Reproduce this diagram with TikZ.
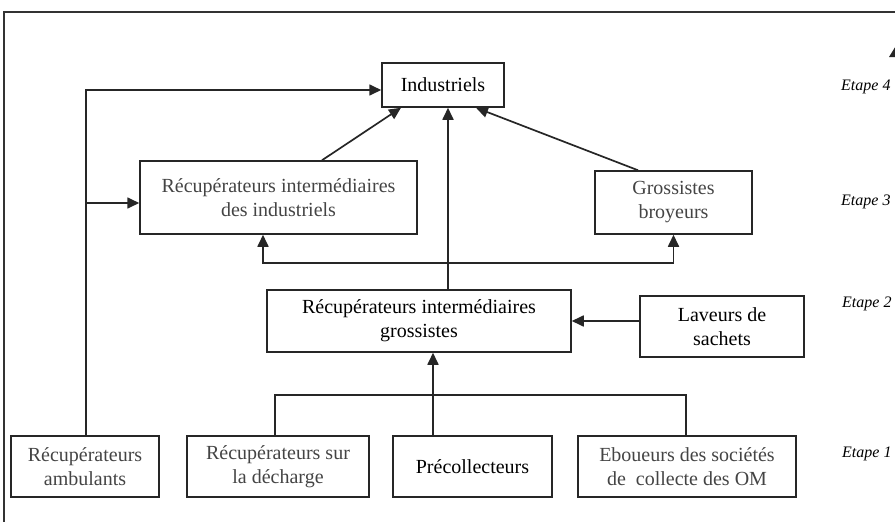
\documentclass[tikz,border=0pt]{standalone}
\usepackage{fontspec}
\setmainfont{Liberation Serif}
\usetikzlibrary{arrows.meta}
\definecolor{txtgray}{HTML}{444444}
\definecolor{framegray}{HTML}{333333}
\tikzset{
  box/.style={draw=black!85, line width=1.5pt, inner sep=0pt, align=center,
    font=\fontsize{20}{24}\selectfont, text=black},
  graybox/.style={box, text=txtgray},
  arr/.style={line width=1.7pt, draw=black!85, -{Triangle[length=12pt,width=11pt]}},
  darr/.style={line width=1.7pt, draw=black!85, {Triangle[length=12pt,width=11pt]}-{Triangle[length=12pt,width=11pt]}},
  plain/.style={line width=1.7pt, draw=black!85},
  etape/.style={anchor=west, inner sep=0pt, font=\fontsize{16}{19}\selectfont\itshape}
}
\begin{document}
\begin{tikzpicture}[x=1pt,y=-1pt]
\useasboundingbox (0,0) rectangle (895,522);
\clip (0,0) rectangle (895,522);
% frame
\draw[framegray, line width=2.8pt] (4,530) -- (4,12) -- (900,12);
\fill[black!85] (889,57) -- (897,44) -- (905,57) -- cycle;
% nodes
\node[box, minimum width=122pt, minimum height=44pt] (ind) at (443,85) {Industriels};
\node[graybox, minimum width=277pt, minimum height=73pt] (rii) at (278.5,197.5) {Récupérateurs intermédiaires\\des industriels};
\node[graybox, minimum width=157pt, minimum height=63pt] (gb) at (673.5,202.5) {Grossistes\\broyeurs};
\node[box, minimum width=304pt, minimum height=62pt] (rig) at (419,321) {Récupérateurs intermédiaires\\grossistes};
\node[box, minimum width=164pt, minimum height=61pt] (lav) at (722,326.5) {Laveurs de\\sachets};
\node[graybox, minimum width=148pt, minimum height=61pt] (amb) at (85,466.5) {Récupérateurs\\ambulants};
\node[graybox, minimum width=182pt, minimum height=61pt] (dec) at (278,466.5) {Récupérateurs sur\\la décharge};
\node[box, minimum width=159pt, minimum height=61pt] (pre) at (472.5,466.5) {Précollecteurs};
\node[graybox, minimum width=218pt, minimum height=61pt] (ebo) at (687,466.5) {Eboueurs des sociétés\\de~ collecte des OM};
% etapes
\node[etape] (e4) at (841,87) {Etape 4};
\node[etape] (e3) at (841,202) {Etape 3};
\node[etape] (e2) at (842,304) {Etape 2};
\node[etape] (e1) at (842,454) {Etape 1};
% connectors
\coordinate (indw) at ([yshift=-5pt]ind.west);
\coordinate (riiw) at ([yshift=-5.5pt]rii.west);
\draw[arr] ([xshift=1pt]amb.north) |- (indw);
\draw[arr] ([xshift=1pt]riiw -| amb.north) -- (riiw);
\draw[arr] ([xshift=43.5pt]rii.north) -- ([xshift=-42pt]ind.south);
\draw[arr] ([xshift=-35.5pt]gb.north) -- ([xshift=33pt]ind.south);
\coordinate (v) at ([xshift=29pt]rig.north);
\draw[arr] (v) -- (v |- ind.south);
\draw[darr] ([xshift=-15.5pt]rii.south) -- ++(0,28) -| (gb.south);
\draw[arr] (lav.west |- rig.east) -- (rig.east);
\coordinate (p) at ([xshift=-39.5pt]pre.north);
\draw[arr] (p) -- (p |- rig.south);
\draw[plain] ([xshift=-3pt]dec.north) -- ++(0,-40) -| ([xshift=-1pt]ebo.north);
\end{tikzpicture}
\end{document}
